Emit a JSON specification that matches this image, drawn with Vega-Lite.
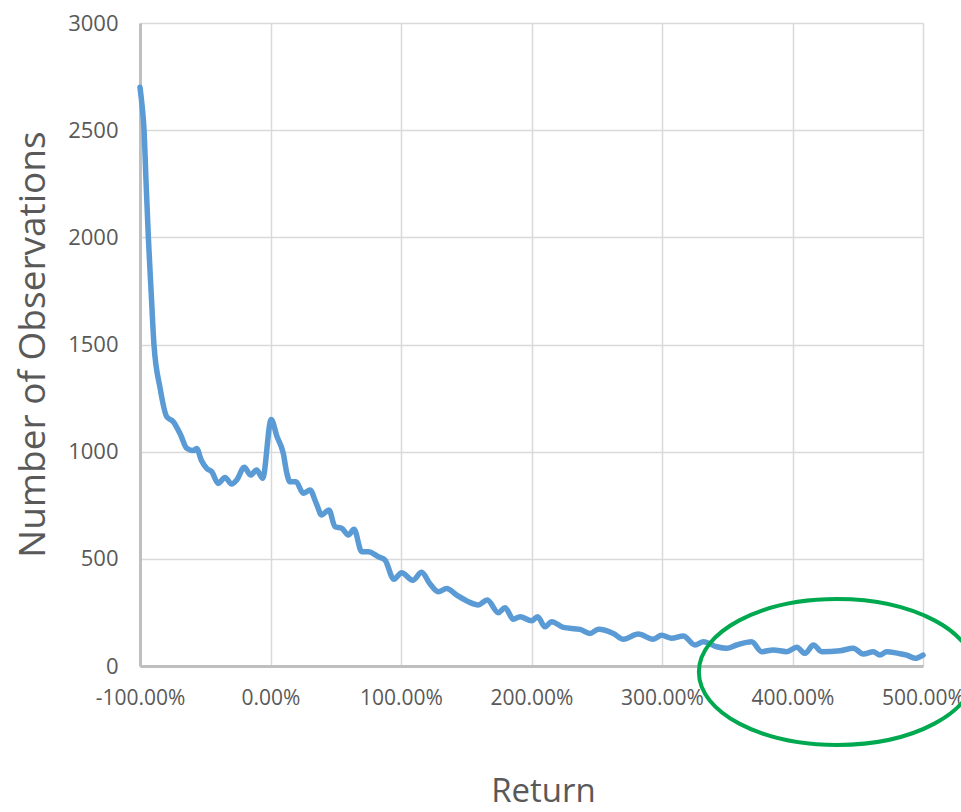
{
  "$schema": "https://vega.github.io/schema/vega-lite/v6.json",
  "autosize": {"type": "none"},
  "padding": {"left": 140, "top": 23, "right": 38, "bottom": 146},
  "width": 783,
  "height": 643,
  "background": "white",
  "config": {
    "view": {"stroke": null},
    "font": "Open Sans"
  },
  "layer": [
    {
      "data": {
        "values": [
          {"ret": -100, "obs": 2700}, {"ret": -98.5, "obs": 2620}, {"ret": -96.9, "obs": 2500},
          {"ret": -95.3, "obs": 2250}, {"ret": -93.6, "obs": 2000}, {"ret": -91.5, "obs": 1750},
          {"ret": -89.3, "obs": 1500}, {"ret": -84.7, "obs": 1300}, {"ret": -79.5, "obs": 1163},
          {"ret": -74.5, "obs": 1140}, {"ret": -69, "obs": 1080}, {"ret": -64.2, "obs": 1016},
          {"ret": -59, "obs": 1005}, {"ret": -56.6, "obs": 1015}, {"ret": -53, "obs": 960},
          {"ret": -48.9, "obs": 922}, {"ret": -45.1, "obs": 907}, {"ret": -40, "obs": 852},
          {"ret": -34.9, "obs": 880}, {"ret": -29.7, "obs": 849}, {"ret": -25.9, "obs": 868},
          {"ret": -20.1, "obs": 927}, {"ret": -15.2, "obs": 891}, {"ret": -10.6, "obs": 915},
          {"ret": -6, "obs": 876}, {"ret": 0.5, "obs": 1150}, {"ret": 5, "obs": 1070},
          {"ret": 9.8, "obs": 992}, {"ret": 12.5, "obs": 900}, {"ret": 14.9, "obs": 860},
          {"ret": 19.5, "obs": 860}, {"ret": 25.1, "obs": 806}, {"ret": 30.3, "obs": 821},
          {"ret": 35, "obs": 760}, {"ret": 39.2, "obs": 705}, {"ret": 44.8, "obs": 728},
          {"ret": 49.4, "obs": 650}, {"ret": 54.6, "obs": 643}, {"ret": 59.6, "obs": 611},
          {"ret": 64, "obs": 638}, {"ret": 69.9, "obs": 533}, {"ret": 75, "obs": 533},
          {"ret": 82.6, "obs": 510}, {"ret": 87.7, "obs": 495}, {"ret": 94.5, "obs": 405},
          {"ret": 100.5, "obs": 435}, {"ret": 109, "obs": 400}, {"ret": 115.8, "obs": 437},
          {"ret": 122, "obs": 385}, {"ret": 128.6, "obs": 347}, {"ret": 135, "obs": 362},
          {"ret": 142.7, "obs": 331}, {"ret": 151.6, "obs": 300}, {"ret": 159.2, "obs": 285},
          {"ret": 166.1, "obs": 308}, {"ret": 174.6, "obs": 249}, {"ret": 179.7, "obs": 272},
          {"ret": 186.1, "obs": 218}, {"ret": 191.2, "obs": 230}, {"ret": 200.1, "obs": 211},
          {"ret": 204.7, "obs": 230}, {"ret": 210.3, "obs": 183}, {"ret": 215.4, "obs": 207},
          {"ret": 224.4, "obs": 180}, {"ret": 237.2, "obs": 171}, {"ret": 244.8, "obs": 152},
          {"ret": 251.2, "obs": 171}, {"ret": 262.7, "obs": 152}, {"ret": 270.4, "obs": 125},
          {"ret": 281.8, "obs": 149}, {"ret": 293.3, "obs": 125}, {"ret": 299.7, "obs": 143},
          {"ret": 307.4, "obs": 129}, {"ret": 316.3, "obs": 140}, {"ret": 325.3, "obs": 98},
          {"ret": 331.7, "obs": 113}, {"ret": 341.9, "obs": 90}, {"ret": 349.6, "obs": 83},
          {"ret": 357.2, "obs": 98}, {"ret": 368.7, "obs": 113}, {"ret": 376.4, "obs": 67},
          {"ret": 385.3, "obs": 75}, {"ret": 395.5, "obs": 67}, {"ret": 403.2, "obs": 87},
          {"ret": 409.6, "obs": 59}, {"ret": 416, "obs": 98}, {"ret": 422.4, "obs": 67},
          {"ret": 436.4, "obs": 71}, {"ret": 446.6, "obs": 83}, {"ret": 454.3, "obs": 56},
          {"ret": 461.9, "obs": 67}, {"ret": 467, "obs": 51}, {"ret": 472.2, "obs": 67},
          {"ret": 481.1, "obs": 59}, {"ret": 487.5, "obs": 51}, {"ret": 493.9, "obs": 36},
          {"ret": 500, "obs": 51}
        ]
      },
      "mark": {"type": "line", "color": "#5b9bd5", "strokeWidth": 5.5, "interpolate": "monotone", "strokeCap": "round", "strokeJoin": "round"},
      "encoding": {
        "x": {
          "field": "ret", "type": "quantitative",
          "scale": {"domain": [-100, 500], "nice": false, "zero": false},
          "axis": {
            "values": [-100, 0, 100, 200, 300, 400, 500],
            "labelExpr": "replace(format(datum.value, '.2f'), '\u2212', '-') + '%'",
            "title": "Return",
            "titleFont": "Open Sans", "titleFontSize": 33, "titleFontWeight": "normal", "titleColor": "#595959",
            "titleX": 403, "titleY": 125, "titleBaseline": "middle", "titleAlign": "center",
            "labelFont": "Open Sans", "labelFontSize": 21, "labelColor": "#595959", "labelPadding": 21,
            "labelOverlap": false, "labelFlush": false,
            "ticks": false,
            "domainColor": "#bfbfbf", "domainWidth": 3,
            "grid": true, "gridColor": "#d9d9d9", "gridWidth": 1.5
          }
        },
        "y": {
          "field": "obs", "type": "quantitative",
          "scale": {"domain": [0, 3000], "nice": false},
          "axis": {
            "values": [0, 500, 1000, 1500, 2000, 2500, 3000],
            "format": "d",
            "title": "Number of Observations",
            "titleFont": "Open Sans", "titleFontSize": 37, "titleFontWeight": "normal", "titleColor": "#595959",
            "titleX": -107, "titleY": 321, "titleAngle": -90, "titleBaseline": "middle", "titleAlign": "center",
            "labelFont": "Open Sans", "labelFontSize": 22, "labelColor": "#595959", "labelPadding": 22,
            "labelFlush": false,
            "ticks": false,
            "domainColor": "#bfbfbf", "domainWidth": 3,
            "grid": true, "gridColor": "#d9d9d9", "gridWidth": 1.5
          }
        }
      }
    },
    {
      "data": {"values": [{"ret": 434, "obs": -28}]},
      "mark": {
        "type": "point",
        "shape": "M 1 0 C 1 0.2922 0.5523 0.529 0 0.529 C -0.5523 0.529 -1 0.2922 -1 0 C -1 -0.2922 -0.5523 -0.529 0 -0.529 C 0.5523 -0.529 1 -0.2922 1 0 Z",
        "size": 76176,
        "filled": false,
        "stroke": "#00a84f",
        "strokeWidth": 4,
        "opacity": 1
      },
      "encoding": {
        "x": {"field": "ret", "type": "quantitative"},
        "y": {"field": "obs", "type": "quantitative"}
      }
    }
  ]
}
